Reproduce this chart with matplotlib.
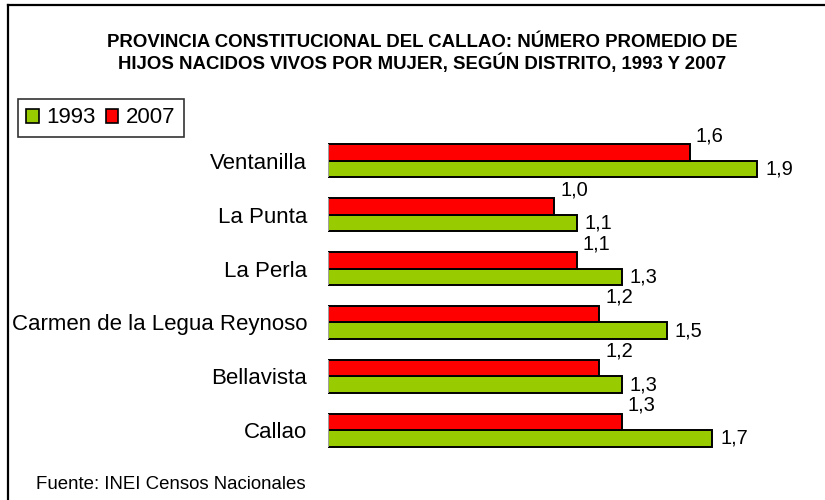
import matplotlib

matplotlib.use("Agg")
import matplotlib.pyplot as plt
from matplotlib.lines import Line2D
from matplotlib.patches import Patch

distritos = [
    "Callao",
    "Bellavista",
    "Carmen de la Legua Reynoso",
    "La Perla",
    "La Punta",
    "Ventanilla",
]
hijos_1993 = [1.7, 1.3, 1.5, 1.3, 1.1, 1.9]
hijos_2007 = [1.3, 1.2, 1.2, 1.1, 1.0, 1.6]
anios = ["1993", "2007"]

VERDE = "#99CC00"
ROJO = "#FF0000"
W, H = 825, 500


def fmt(v):
    return f"{v:.1f}".replace(".", ",")


plt.rcParams["font.family"] = ["Liberation Sans", "DejaVu Sans"]

fig = plt.figure(figsize=(W / 100, H / 100), dpi=100)
# axes placed in pixel terms: x=0 at 328px, 226px per unit; groups 53.8px apart
ax = fig.add_axes([328 / W, 43 / H, 452 / W, 323 / H])

h = 0.307
y = list(range(len(distritos)))
ax.barh([i - h / 2 for i in y], hijos_1993, height=h, color=VERDE,
        edgecolor="black", linewidth=1.4)
ax.barh([i + h / 2 for i in y], hijos_2007, height=h, color=ROJO,
        edgecolor="black", linewidth=1.4)

# light grey axis piece next to each group
ax.vlines([0] * len(y), [i - h for i in y], [i + h for i in y],
          color="#c0c0c0", lw=1.2, zorder=1)

for i, (a, b) in enumerate(zip(hijos_1993, hijos_2007)):
    ax.annotate(fmt(a), (a, i - h / 2), xytext=(8, 0), textcoords="offset pixels",
                va="center", ha="left", fontsize=14.5)
    ax.annotate(fmt(b), (b, i + h), xytext=(6, 3), textcoords="offset pixels",
                va="baseline", ha="left", fontsize=14.5)

ax.set_xlim(0, 2)
ax.set_ylim(-0.5, len(distritos) - 0.5)
ax.set_yticks(y)
ax.set_yticklabels(distritos, fontsize=16)
ax.tick_params(axis="y", length=0, pad=15)
ax.set_xticks([])
for s in ax.spines.values():
    s.set_visible(False)

fig.text(422 / W, 1 - 47 / H,
         "PROVINCIA CONSTITUCIONAL DEL CALLAO: NÚMERO PROMEDIO DE",
         ha="center", va="baseline", fontsize=13.4, fontweight="bold")
fig.text(422 / W, 1 - 69 / H,
         "HIJOS NACIDOS VIVOS POR MUJER, SEGÚN DISTRITO, 1993 Y 2007",
         ha="center", va="baseline", fontsize=13.4, fontweight="bold")

handles = [Patch(facecolor=VERDE, edgecolor="black", linewidth=1.2),
           Patch(facecolor=ROJO, edgecolor="black", linewidth=1.2)]
leg = fig.legend(handles, anios, loc="upper left",
                 bbox_to_anchor=(18 / W, 1 - 99 / H), bbox_transform=fig.transFigure,
                 ncol=2, fontsize=16, frameon=True, fancybox=False,
                 handlelength=0.56, handleheight=0.6, handletextpad=0.35,
                 columnspacing=0.45, borderpad=0.38, borderaxespad=0)
leg.get_frame().set_edgecolor("black")
leg.get_frame().set_linewidth(1.2)

fig.text(36 / W, 1 - 489 / H, "Fuente: INEI Censos Nacionales",
         ha="left", va="baseline", fontsize=13.4)

# outer frame (only top and left edges fall inside the picture)
fig.add_artist(Line2D([8 / W, 1], [1 - 5 / H, 1 - 5 / H],
                      transform=fig.transFigure, color="black", lw=1.6))
fig.add_artist(Line2D([8 / W, 8 / W], [0, 1 - 5 / H],
                      transform=fig.transFigure, color="black", lw=1.6))

fig.savefig("out.png", dpi=100)
